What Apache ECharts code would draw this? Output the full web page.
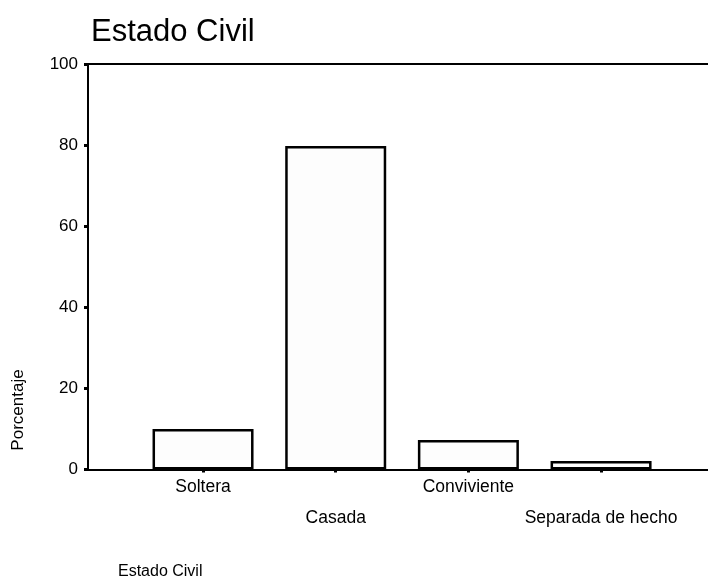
<!DOCTYPE html>
<html>
<head>
<meta charset="utf-8">
<script src="https://cdn.jsdelivr.net/npm/echarts@6/dist/echarts.min.js"></script>
<style>
html,body{margin:0;padding:0;background:#fff;}
#chart{width:708px;height:579px;}
</style>
</head>
<body>
<div id="chart"></div>
<script>
var categories = ['Soltera', 'Casada', 'Conviviente', 'Separada de hecho'];
var percentages = [10.0, 79.8, 7.3, 2.1];
var yTicks = [0, 20, 40, 60, 80, 100];
var chartTitle = 'Estado Civil';
var xTitle = 'Estado Civil';
var yTitle = 'Porcentaje';

var FONT = '"Liberation Sans", Arial, sans-serif';
var chart = echarts.init(document.getElementById('chart'), null, {renderer: 'canvas'});
var option = {
  backgroundColor: '#ffffff',
  animation: false,
  title: {
    text: chartTitle, left: 86, top: 12,
    textStyle: {fontFamily: FONT, fontSize: 31, fontWeight: 'normal', color: '#000'}
  },
  grid: [
    {left: 88, right: -4, top: 64, bottom: 109.5, containLabel: false},
    {left: 136.7, right: 40.6, top: 64, bottom: 109.5, containLabel: false}
  ],
  xAxis: [
    {gridIndex: 0, type: 'value', min: 0, max: 1, position: 'bottom',
     axisLine: {show: true, lineStyle: {color: '#000', width: 2}},
     axisTick: {show: false}, axisLabel: {show: false}, splitLine: {show: false}},
    {gridIndex: 0, type: 'value', min: 0, max: 1, position: 'top',
     axisLine: {show: true, lineStyle: {color: '#000', width: 2}},
     axisTick: {show: false}, axisLabel: {show: false}, splitLine: {show: false}},
    {gridIndex: 1, type: 'category', data: categories, position: 'bottom',
     axisLine: {show: false},
     axisTick: {show: true, alignWithLabel: true, length: 3, lineStyle: {color: '#000', width: 3}},
     axisLabel: {
       interval: 0, margin: 2, lineHeight: 31,
       fontFamily: FONT, fontSize: 17.5, color: '#000',
       formatter: function (v, i) { return (i % 2 === 1) ? '\n' + v : v; }
     },
     splitLine: {show: false}}
  ],
  yAxis: [
    {gridIndex: 0, type: 'value', min: 0, max: 100, interval: 20,
     axisLine: {show: true, lineStyle: {color: '#000', width: 2}},
     axisTick: {show: true, length: 4, lineStyle: {color: '#000', width: 3}},
     axisLabel: {margin: 10, fontFamily: FONT, fontSize: 17, color: '#000',
       formatter: function (v) { return yTicks.indexOf(v) >= 0 ? String(v) : ''; }},
     splitLine: {show: false}},
    {gridIndex: 1, type: 'value', min: 0, max: 100, interval: 20,
     axisLine: {show: false}, axisTick: {show: false}, axisLabel: {show: false},
     splitLine: {show: false}}
  ],
  series: [{
    type: 'bar', xAxisIndex: 2, yAxisIndex: 1,
    data: percentages, barWidth: 101,
    itemStyle: {color: '#fdfdfd', borderColor: '#000', borderWidth: 2.5}
  }],
  graphic: [
    {type: 'text', left: 118, top: 564,
     style: {text: xTitle, font: '16px "Liberation Sans", Arial, sans-serif', fill: '#000'}},
    {type: 'text', x: 18, y: 410, rotation: Math.PI / 2,
     style: {text: yTitle, font: '17px "Liberation Sans", Arial, sans-serif', fill: '#000',
       align: 'center', verticalAlign: 'middle'}}
  ]
};
chart.setOption(option);
</script>
</body>
</html>
